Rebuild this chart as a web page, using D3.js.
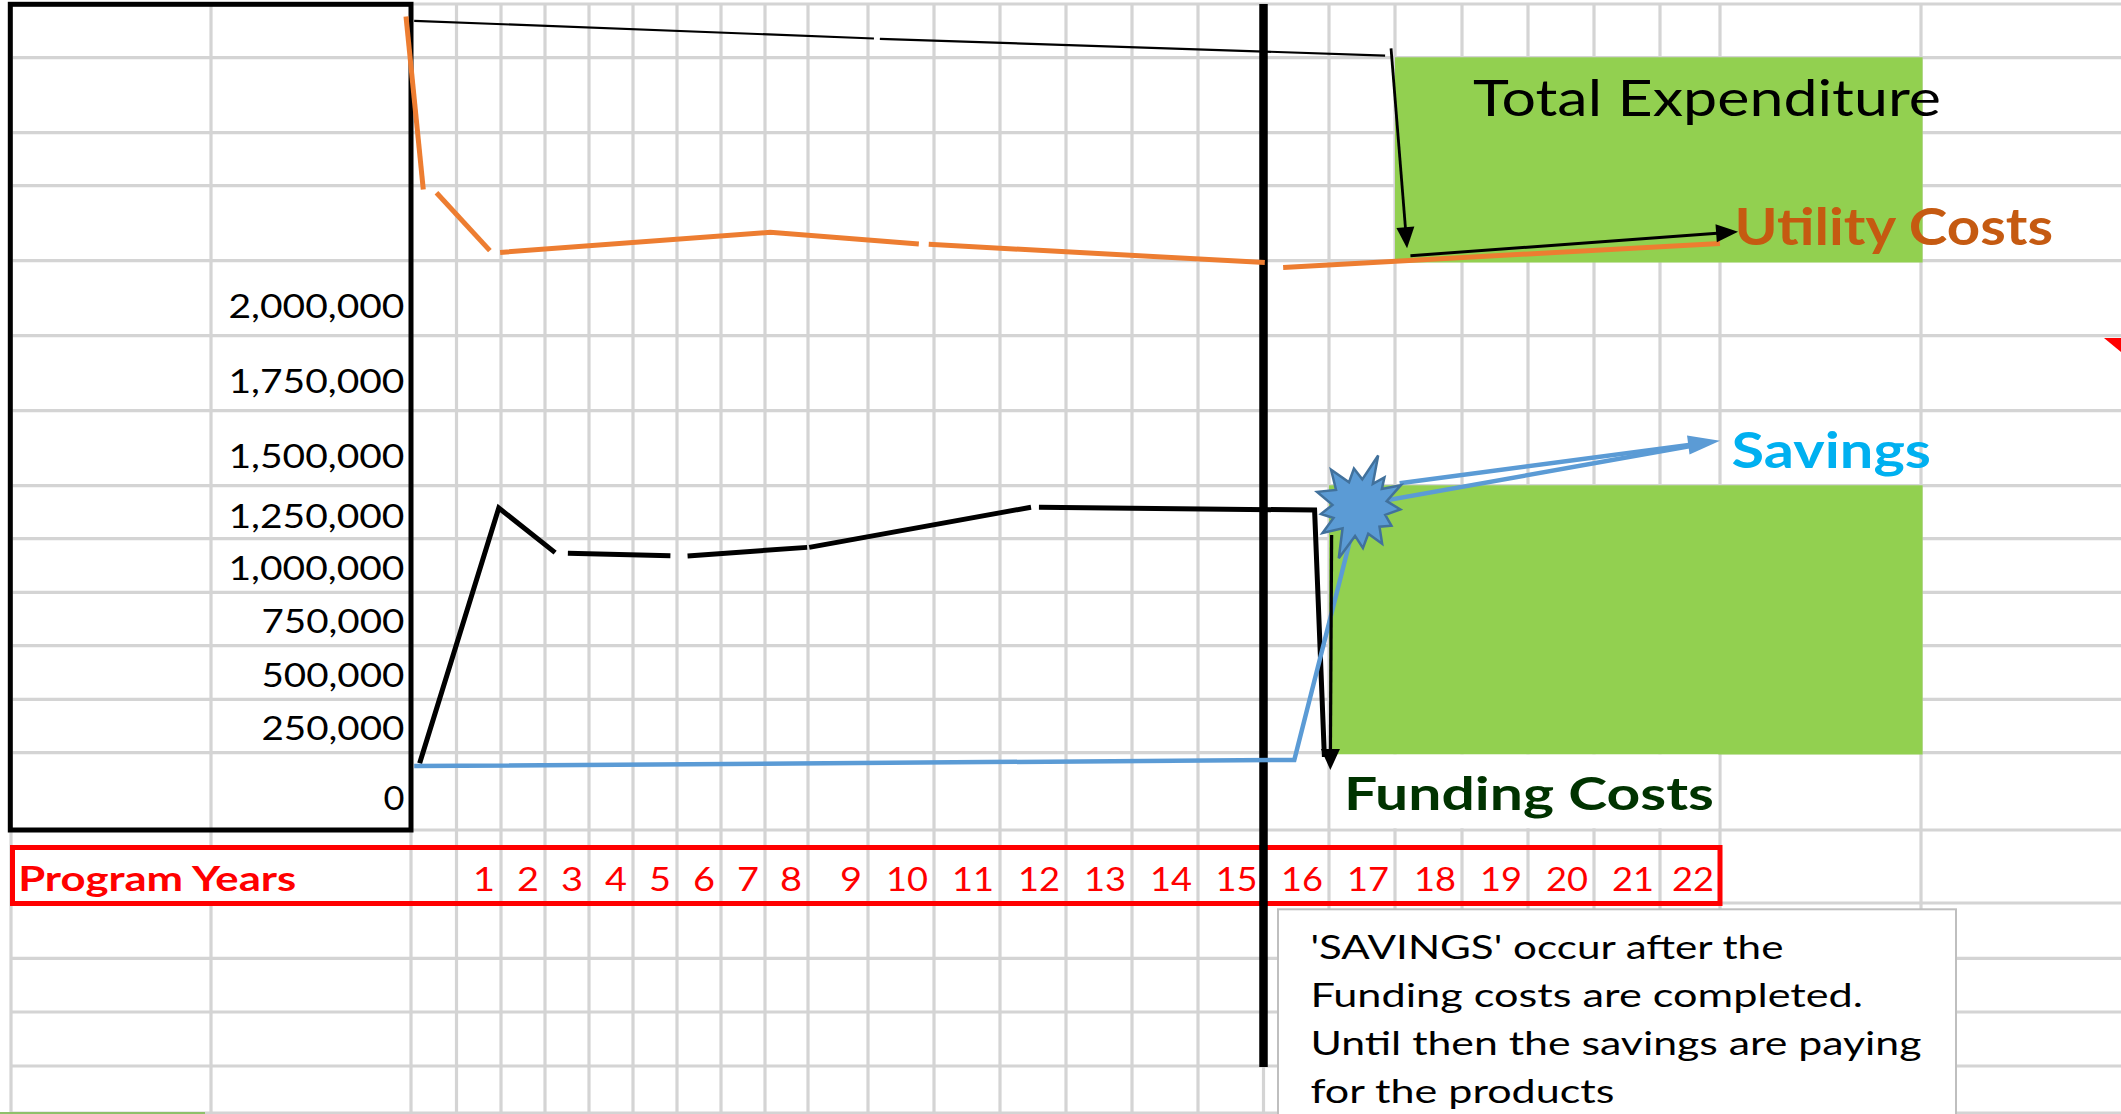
<!DOCTYPE html>
<html><head><meta charset="utf-8">
<script src="https://cdn.jsdelivr.net/npm/d3@7"></script>
<style>html,body{margin:0;padding:0;background:#fff;overflow:hidden}</style>
</head><body>
<script>
// ---------------- data ----------------
const programYears = ['1','2','3','4','5','6','7','8','9','10','11','12','13','14','15','16','17','18','19','20','21','22'];
const yTickValues = [0, 250000, 500000, 750000, 1000000, 1250000, 1500000, 1750000, 2000000];
const yTickLabels = ['0','250,000','500,000','750,000','1,000,000','1,250,000','1,500,000','1,750,000','2,000,000'];

// each series: list of drawn segments, each point = [program-year position, value]
const utilityCosts = [
  [[-1.025, 2967000], [-0.73, 2391000]],
  [[-0.44, 2380000], [0.75, 2187000]],
  [[0.98, 2181000], [7.12, 2248000], [9.77, 2209000]],
  [[9.92, 2208000], [15.02, 2147000]],
  [[15.30, 2131000], [22.00, 2211000]]
];
const fundingCosts = [
  [[-0.81, 125000], [0.95, 1284000], [2.23, 1075000]],
  [[2.52, 1072000], [4.85, 1060000]],
  [[5.24, 1059000], [7.98, 1100000]],
  [[8.02, 1100000], [11.47, 1287000]],
  [[11.59, 1287000], [15.78, 1275000], [15.93, 147500]]
];
const savings = [[-0.93, 115000], [15.47, 137000], [16.32, 1135000], [16.89, 1317000], [22.00, 1553000]];
const savingsPointer = [[17.07, 1388000], [22.00, 1553000]];
const expenditureLeader = [
  [[-0.93, 2953000], [9.09, 2894000]],
  [[9.18, 2893000], [16.85, 2837000]]
];
const expenditureArrowDown = [[16.94, 2861000], [17.18, 2195000]];
const expenditureArrowRight = [[17.23, 2170000], [22.09, 2250000]];
const fundingArrow = [[16.04, 1159000], [16.02, 101000]];
const starCentre = [16.46, 1287000];
const noteLines = ["'SAVINGS' occur after the", 'Funding costs are completed.', 'Until then the savings are paying', 'for the products'];

// ---------------- layout (sheet grid) ----------------
const W = 2121, H = 1114;
const colIdx = d3.range(-3, 24);
const colEdges = [11,211,411,456.5,501,545,589,633,677,721,765,808,868,934,1000,1066,1132,1198,1263.5,1329,1395,1462,1528,1594,1660,1720,1921];
const rowEdges = [4,57.7,132.7,185.7,260.7,335.7,410.7,485.7,538.7,592.3,645.7,699.3,752.7,830,903,958.3,1012,1066,1113];
const yLabelCentres = [798.3,728.3,675,621.7,568.3,516,456.7,381.7,306.7];

const x = d3.scaleLinear().domain(colIdx).range(colEdges);
const y = d3.scaleLinear().domain(yTickValues).range(yLabelCentres);
const FONT = 'Lato, "Open Sans", "Noto Sans", sans-serif';

const svg = d3.select('body').append('svg').attr('width', W).attr('height', H).style('display','block');
svg.append('rect').attr('width', W).attr('height', H).attr('fill', '#fff');

// grid
const grid = svg.append('g').attr('stroke', '#D4D4D4').attr('stroke-width', 3.2);
grid.selectAll('line.v').data(colIdx).join('line').attr('class','v')
  .attr('x1', d => x(d)).attr('x2', d => x(d)).attr('y1', rowEdges[0]).attr('y2', H);
grid.selectAll('line.h').data(rowEdges).join('line').attr('class','h')
  .attr('x1', x(-3)).attr('x2', W).attr('y1', d => d).attr('y2', d => d);
svg.append('line').attr('x1', 0).attr('x2', 205).attr('y1', 1113).attr('y2', 1113)
  .attr('stroke', '#8FC06A').attr('stroke-width', 2);

// green cell fills
const fills = [{c0:17, c1:23, r0:1, r1:4}, {c0:16, c1:23, r0:7, r1:12}];
svg.selectAll('rect.fill').data(fills).join('rect').attr('class','fill')
  .attr('x', d => x(d.c0)).attr('y', d => rowEdges[d.r0] - 0.4)
  .attr('width', d => x(d.c1) + 1.6 - x(d.c0))
  .attr('height', d => rowEdges[d.r1] + 1.8 - (rowEdges[d.r0] - 0.4))
  .attr('fill', '#92D050');

// hidden gridlines under overflowing text
svg.append('rect').attr('x', x(16) + 1.7).attr('y', rowEdges[12] + 1.8)
  .attr('width', x(22) - x(16) - 3.4).attr('height', rowEdges[13] - rowEdges[12] - 3.6).attr('fill', '#fff');
svg.append('rect').attr('x', 15).attr('y', 850).attr('width', x(-1) - 17).attr('height', 51).attr('fill', '#fff');

// left black box
svg.append('rect').attr('x', 10.3).attr('y', 4.3).attr('width', x(-1) - 10.3).attr('height', rowEdges[13] - 4.3)
  .attr('fill', 'none').attr('stroke', '#000').attr('stroke-width', 5);

// red program years box
svg.append('rect').attr('x', 12.5).attr('y', 847.5).attr('width', x(22) - 12.5).attr('height', 56)
  .attr('fill', 'none').attr('stroke', '#FF0000').attr('stroke-width', 5);

// note box
svg.append('rect').attr('x', 1278).attr('y', 909.3).attr('width', 678).attr('height', 260)
  .attr('fill', '#fff').attr('stroke', '#BFBFBF').attr('stroke-width', 2);

// thick vertical divider
svg.append('line').attr('x1', x(15)).attr('x2', x(15)).attr('y1', 4).attr('y2', rowEdges[17] + 1)
  .attr('stroke', '#000').attr('stroke-width', 8.5);

// comment marker
svg.append('polygon').attr('points', `${W-17},338 ${W},338 ${W},352`).attr('fill', '#FF0000');

// ---------------- lines ----------------
const line = d3.line().x(d => x(d[0])).y(d => y(d[1]));
const linePx = d3.line();

function drawSegments(segs, color, width) {
  svg.append('g').selectAll('path').data(segs).join('path')
    .attr('d', line).attr('fill', 'none').attr('stroke', color)
    .attr('stroke-width', width).attr('stroke-linejoin', 'miter').attr('stroke-linecap', 'butt');
}
function drawArrow(pts, color, width, headLen, headW, drawHead = true) {
  const P = pts.map(d => [x(d[0]), y(d[1])]);
  const [ax, ay] = P[P.length - 2], [bx, by] = P[P.length - 1];
  const L = Math.hypot(bx - ax, by - ay), ux = (bx - ax) / L, uy = (by - ay) / L;
  const shaft = P.slice(0, -1).concat([[bx - ux * headLen * 0.8, by - uy * headLen * 0.8]]);
  svg.append('path').attr('d', linePx(shaft)).attr('fill', 'none').attr('stroke', color)
    .attr('stroke-width', width).attr('stroke-linejoin', 'miter');
  if (drawHead) {
    const cx = bx - ux * headLen, cy = by - uy * headLen, px = -uy * headW / 2, py = ux * headW / 2;
    svg.append('polygon').attr('points', `${bx},${by} ${cx + px},${cy + py} ${cx - px},${cy - py}`).attr('fill', color);
  }
}

drawSegments(expenditureLeader, '#000', 2.2);
drawSegments(utilityCosts, '#ED7D31', 5);
drawSegments(fundingCosts, '#000', 5);
drawArrow(savings, '#5B9BD5', 4.5, 32, 19, false);
drawArrow(savingsPointer, '#5B9BD5', 4.5, 32, 19, true);
drawArrow(expenditureArrowDown, '#000', 2.8, 21, 18);
drawArrow(expenditureArrowRight, '#000', 3, 22, 18);
drawArrow(fundingArrow, '#000', 3.2, 21, 19);

// explosion shape (tip angle in degrees, tip radius)
const starTips = [[-70,55],[-98,39],[-127,47],[-160,45],[170,39],[145,45],[112,55],[85,41],[58,43],[30,37],[3,41],[-28,47],[-50,39]];
const inner = [28,27,29,27,28,27,29,28,28,27,28,29,27];
const sc = [x(starCentre[0]), y(starCentre[1])];
const starPts = [];
starTips.forEach((t, i) => {
  const a = t[0] * Math.PI / 180;
  starPts.push([sc[0] + Math.cos(a) * t[1], sc[1] + Math.sin(a) * t[1]]);
  const nt = starTips[(i + 1) % starTips.length];
  let d = nt[0] - t[0];
  while (d > 180) d -= 360;
  while (d <= -180) d += 360;
  const am = (t[0] + d / 2) * Math.PI / 180;
  starPts.push([sc[0] + Math.cos(am) * inner[i], sc[1] + Math.sin(am) * inner[i]]);
});
svg.append('polygon').attr('points', starPts.map(p => p.join(',')).join(' '))
  .attr('fill', '#5B9BD5').attr('stroke', '#41719C').attr('stroke-width', 2.5).attr('stroke-linejoin', 'miter');

// ---------------- text ----------------
function txt(str, x0, base, size, o = {}) {
  const t = svg.append('text').attr('x', x0).attr('y', base)
    .attr('font-family', FONT).attr('font-size', size)
    .attr('font-weight', o.bold ? 700 : 400).attr('fill', o.fill || '#000').text(str);
  if (o.width) t.attr('textLength', o.width).attr('lengthAdjust', 'spacingAndGlyphs');
  return t;
}
const labelWidth = {9: 176, 7: 143, 1: 21};
yTickValues.forEach((v, i) => {
  const w = labelWidth[yTickLabels[i].length];
  txt(yTickLabels[i], 404.5 - w, y(v) + 11.65, 32.5, {width: w});
});
txt('Program Years', 18.2, 890.7, 33.5, {bold: true, fill: '#FF0000', width: 278});
programYears.forEach((lab, i) => {
  const w = lab.length === 1 ? 22 : 42;
  txt(lab, x(i + 1) - 6 - w, 890.7, 33.5, {fill: '#FF0000', width: w});
});
txt('Total Expenditure', 1473, 116, 50, {width: 468});
txt('Utility Costs', 1734.5, 245, 51, {bold: true, fill: '#C55A11', width: 318.5});
txt('Savings', 1731.6, 468.3, 49, {bold: true, fill: '#00B0F0', width: 199.4});
txt('Funding Costs', 1343.9, 810, 46.5, {bold: true, fill: '#003300', width: 370});
const noteBase = [958.5, 1007, 1055, 1102.5], noteW = [473, 552.6, 611, 304];
noteLines.forEach((s, i) => txt(s, 1310.4, noteBase[i], 32.5, {width: noteW[i]}));
</script>
</body></html>
